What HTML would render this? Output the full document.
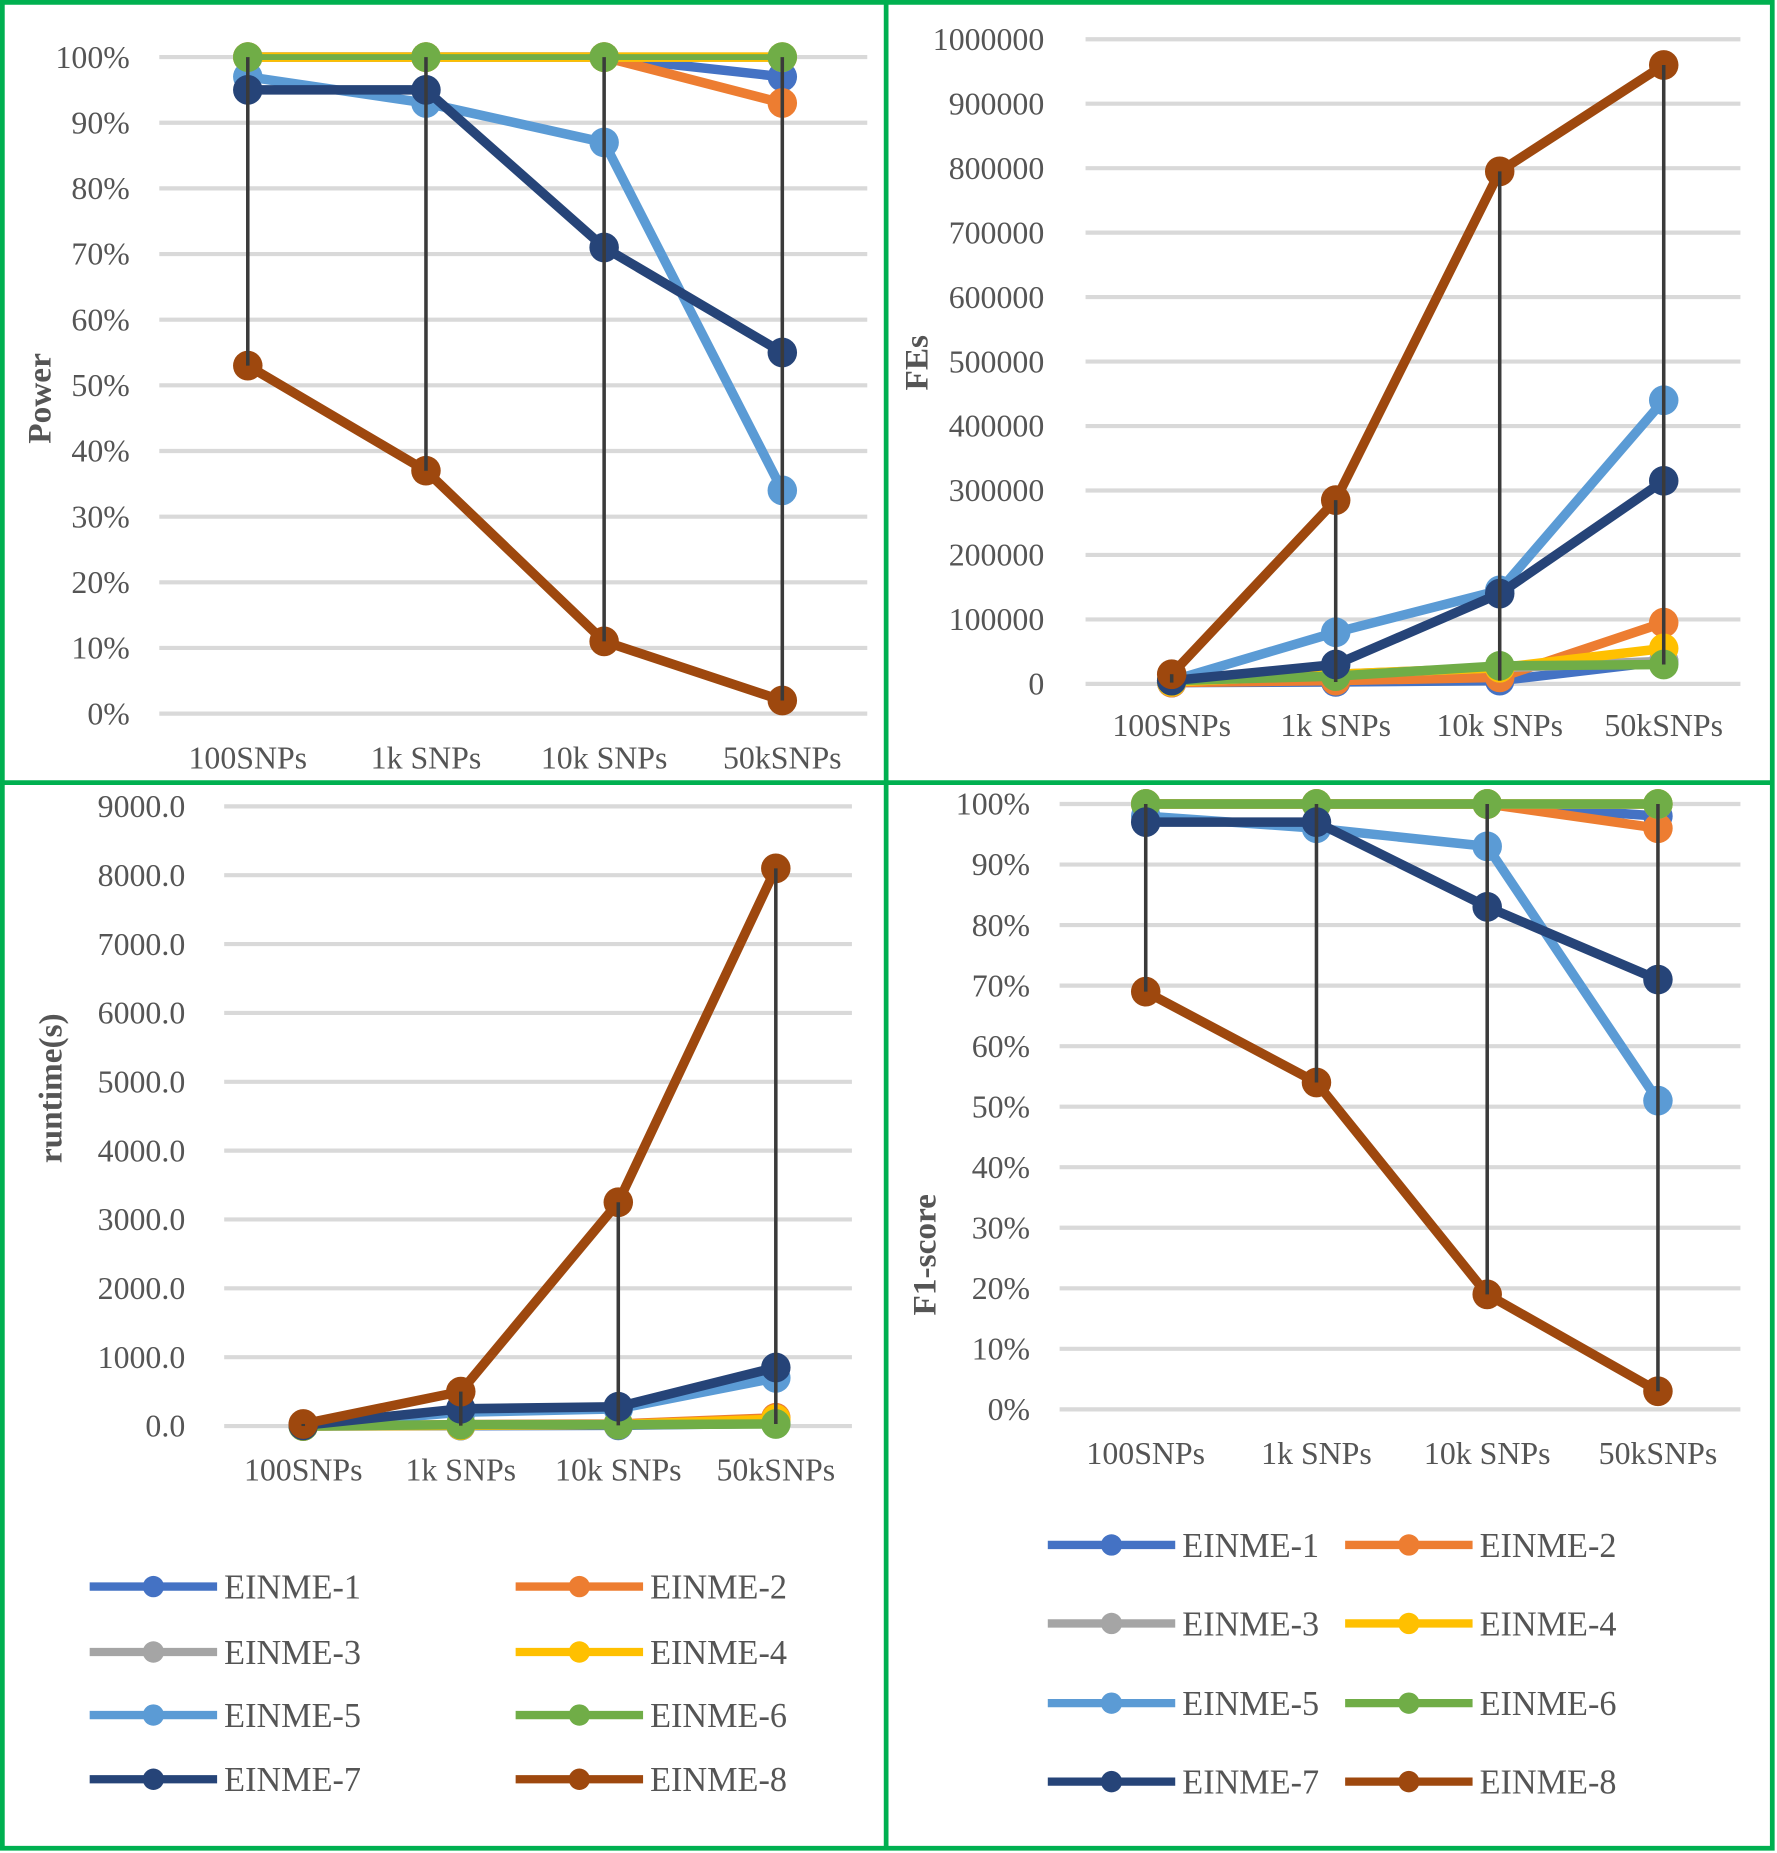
<!DOCTYPE html>
<html><head><meta charset="utf-8"><style>
html,body{margin:0;padding:0;background:#fff}
svg{display:block}
text{font-family:"Liberation Serif",serif;fill:#555}
</style></head><body>
<svg id="c" width="1777" height="1853" viewBox="0 0 1506 1558" preserveAspectRatio="none" xmlns="http://www.w3.org/2000/svg">
<rect x="0" y="0" width="1506" height="1558" fill="#fff"/>
<g fill="none" stroke="#00b050" stroke-width="4">
<rect x="2" y="2" width="1500" height="1552"/>
<line x1="751" y1="2" x2="751" y2="1554"/>
<line x1="2" y1="658" x2="1502" y2="658"/>
</g>
</svg>
<script>
const categories = ["100SNPs","1k SNPs","10k SNPs","50kSNPs"];
const seriesNames = ["EINME-1","EINME-2","EINME-3","EINME-4","EINME-5","EINME-6","EINME-7","EINME-8"];
const colors = ["#4472c4","#ed7d31","#a5a5a5","#ffc000","#5b9bd5","#70ad47","#264478","#9e480e"];
const powerE1 = [100,100,100,97];
const powerE2 = [100,100,100,93];
const powerE3 = [100,100,100,100];
const powerE4 = [100,100,100,100];
const powerE5 = [97,93,87,34];
const powerE6 = [100,100,100,100];
const powerE7 = [95,95,71,55];
const powerE8 = [53,37,11,2];
const fesE1 = [2000,3000,5000,35000];
const fesE2 = [2000,5000,10000,95000];
const fesE3 = [3000,15000,25000,35000];
const fesE4 = [3000,15000,25000,55000];
const fesE5 = [5000,80000,145000,440000];
const fesE6 = [5000,12000,28000,30000];
const fesE7 = [5000,30000,140000,315000];
const fesE8 = [15000,285000,795000,960000];
const rtE1 = [0,5,10,40];
const rtE2 = [0,20,30,120];
const rtE3 = [0,10,20,60];
const rtE4 = [0,10,20,100];
const rtE5 = [10,200,250,700];
const rtE6 = [0,20,20,30];
const rtE7 = [10,250,280,850];
const rtE8 = [30,500,3250,8100];
const f1E1 = [100,100,100,98];
const f1E2 = [100,100,100,96];
const f1E3 = [100,100,100,100];
const f1E4 = [100,100,100,100];
const f1E5 = [98,96,93,51];
const f1E6 = [100,100,100,100];
const f1E7 = [97,97,83,71];
const f1E8 = [69,54,19,3];
const powerTicks = ["0%","10%","20%","30%","40%","50%","60%","70%","80%","90%","100%"];
const fesTicks = ["0","100000","200000","300000","400000","500000","600000","700000","800000","900000","1000000"];
const rtTicks = ["0.0","1000.0","2000.0","3000.0","4000.0","5000.0","6000.0","7000.0","8000.0","9000.0"];
const f1Ticks = powerTicks;

const svg = document.getElementById('c');
const NS = "http://www.w3.org/2000/svg";
function mk(tag, attrs, parent){const e=document.createElementNS(NS,tag);for(const k in attrs)e.setAttribute(k,attrs[k]);(parent||svg).appendChild(e);return e;}

function panel(cfg){
  const g = mk('g',{});
  
  
  const n = cfg.ticks.length-1;
  const y = v => cfg.y0 - (v/cfg.max)*(cfg.y0-cfg.y1);
  const x = i => cfg.cx[0] + i*(cfg.cx[1]-cfg.cx[0]);
  cfg.ticks.forEach((t,i)=>{
    const v = cfg.max*i/n, yy=y(v);
    const gl = mk('line',{x1:cfg.px0,x2:cfg.px1,y1:yy,y2:yy,stroke:'#d9d9d9','stroke-width':3.5},g);
    
    
    const tl = mk('text',{x:cfg.lx,y:yy+9,'text-anchor':'end','font-size':27},g);
    tl.textContent = t;
    
    
  });
  categories.forEach((c,i)=>{
    const t = mk('text',{x:x(i),y:cfg.cy,'text-anchor':'middle','font-size':27},g);
    t.textContent = c;
    
    
  });
  const at = mk('text',{x:0,y:0,'text-anchor':'middle','font-size':28,'font-weight':'bold',transform:`translate(${cfg.tx},${cfg.ty}) rotate(-90)`},g);
  at.textContent = cfg.title;
  
  
  cfg.series.forEach((s,si)=>{
    const pts = s.map((v,i)=>x(i)+','+y(v)).join(' ');
    const pl = mk('polyline',{points:pts,fill:'none',stroke:colors[si],'stroke-width':si==5&&cfg.thinGreen?5:8,'stroke-linejoin':'round'},g);
    
    
    s.forEach((v,i)=>{
      const m = mk('circle',{cx:x(i),cy:y(v),r:12.5,fill:colors[si]},g);
      
      
    });
  });
  categories.forEach((c,i)=>{
    const vals = cfg.series.map(s=>s[i]);
    const hl = mk('line',{x1:x(i),x2:x(i),y1:y(Math.max(...vals)),y2:y(Math.min(...vals)),stroke:'#3a3a3a','stroke-width':3},g);
    
    
  });
}

panel({name:'power-chart',ticks:powerTicks,max:100,y0:600,y1:48,px0:135,px1:735,cx:[210,361],lx:110,cy:646,tx:43,ty:335,title:'Power',thinGreen:true,
  series:[powerE1,powerE2,powerE3,powerE4,powerE5,powerE6,powerE7,powerE8]});
panel({name:'fes-chart',ticks:fesTicks,max:1000000,y0:575,y1:33,px0:920,px1:1475,cx:[993,1132],lx:885,cy:619,tx:786,ty:305,title:'FEs',
  series:[fesE1,fesE2,fesE3,fesE4,fesE5,fesE6,fesE7,fesE8]});
panel({name:'runtime-chart',ticks:rtTicks,max:9000,y0:1199,y1:678,px0:190,px1:722,cx:[257,390.5],lx:157,cy:1245,tx:52,ty:915,title:'runtime(s)',
  series:[rtE1,rtE2,rtE3,rtE4,rtE5,rtE6,rtE7,rtE8]});
panel({name:'f1-score-chart',ticks:f1Ticks,max:100,y0:1185,y1:676,px0:898,px1:1475,cx:[971,1115.7],lx:873,cy:1231,tx:793,ty:1055,title:'F1-score',
  series:[f1E1,f1E2,f1E3,f1E4,f1E5,f1E6,f1E7,f1E8]});

function legend(name, cols, rows){
  const g = mk('g',{});
  
  
  seriesNames.forEach((s,i)=>{
    const c = cols[i%2], r = rows[Math.floor(i/2)];
    const e = mk('g',{},g);
    
    
    mk('line',{x1:c,x2:c+108,y1:r,y2:r,stroke:colors[i],'stroke-width':7},e);
    mk('circle',{cx:c+54,cy:r,r:9,fill:colors[i]},e);
    const t = mk('text',{x:c+114,y:r+10,'font-size':29},e);
    t.textContent = s;
  });
}
legend('runtime-legend',[76,437],[1334,1389,1442,1496]);
legend('f1-legend',[888,1140],[1299,1365,1432,1498]);
</script>
</body></html>
